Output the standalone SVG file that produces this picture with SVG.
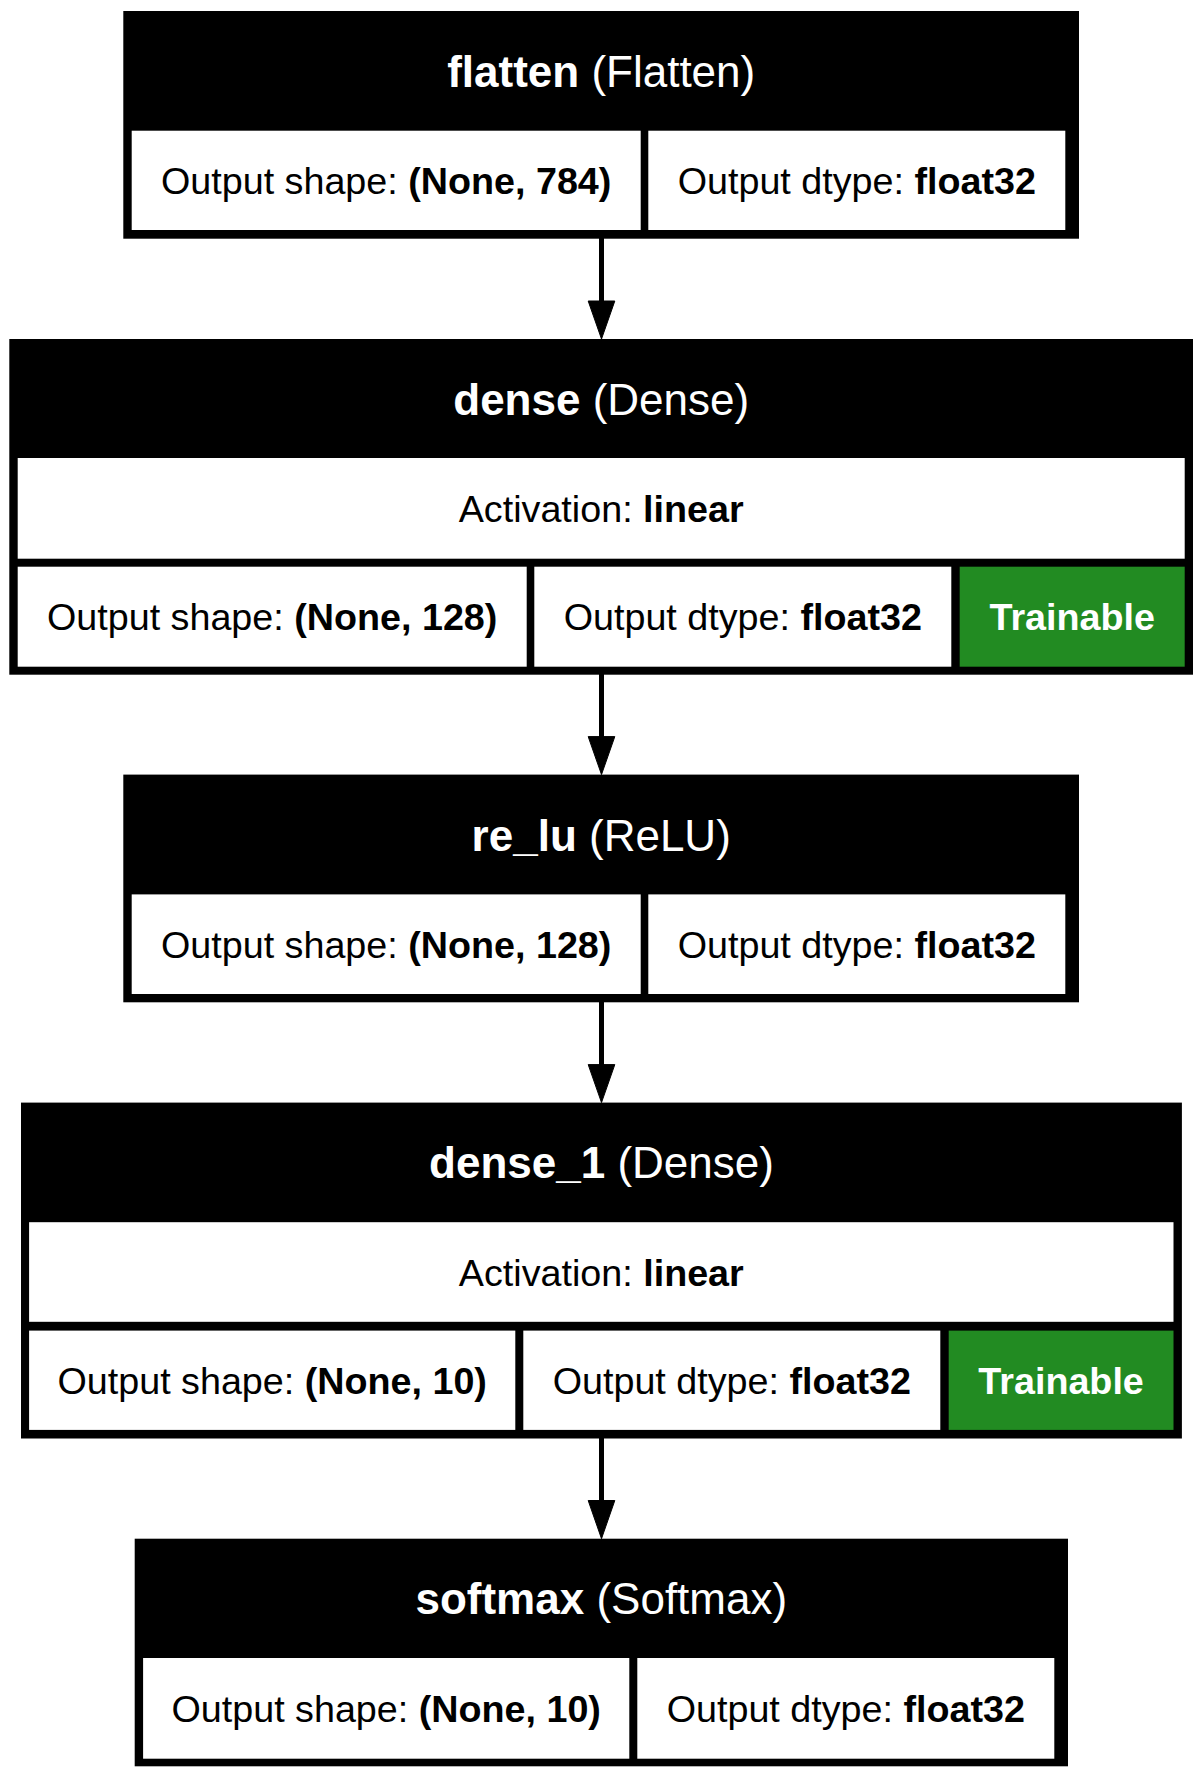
<svg xmlns="http://www.w3.org/2000/svg" width="1203" height="1778" viewBox="0 0 1203 1778">
<style>
text { font-family: "Liberation Sans", Arial, Helvetica, sans-serif; text-anchor: middle; }
.hd { font-size: 44px; fill: #ffffff; }
.bd { font-size: 37.7px; fill: #000000; }
.tr { font-size: 37.7px; fill: #ffffff; font-weight: bold; }
.b { font-weight: bold; }
.outer { fill: #000000; }
.cell { fill: #ffffff; }
.green { fill: #228b22; }
.edge { stroke: #000000; stroke-width: 5; fill: none; }
.head { fill: #000000; stroke: #000000; stroke-width: 1; }
</style>
<rect width="1203" height="1778" fill="#ffffff"/>
<g id="connectors">
  <line class="edge" x1="601.5" y1="238" x2="601.5" y2="302"/>
  <polygon class="head" points="588.2,301 614.8,301 601.5,339"/>
  <line class="edge" x1="601.5" y1="674" x2="601.5" y2="737"/>
  <polygon class="head" points="588.2,736.6 614.8,736.6 601.5,774.6"/>
  <line class="edge" x1="601.5" y1="1002" x2="601.5" y2="1065"/>
  <polygon class="head" points="588.2,1064.6 614.8,1064.6 601.5,1102.6"/>
  <line class="edge" x1="601.5" y1="1438" x2="601.5" y2="1501"/>
  <polygon class="head" points="588.2,1500.5 614.8,1500.5 601.5,1538.7"/>
</g>
<g id="flatten">
  <rect class="outer" x="123.3" y="11" width="955.7" height="227.7"/>
  <rect class="cell" x="131.7" y="130.7" width="509" height="99.3"/>
  <rect class="cell" x="648.3" y="130.7" width="417" height="99.3"/>
  <text class="hd" x="601.2" y="86.9"><tspan class="b">flatten</tspan> (Flatten)</text>
  <text class="bd" x="386.2" y="194">Output shape: <tspan class="b">(None, 784)</tspan></text>
  <text class="bd" x="856.8" y="194">Output dtype: <tspan class="b">float32</tspan></text>
</g>
<g id="dense">
  <rect class="outer" x="9.3" y="339" width="1183.7" height="335.7"/>
  <rect class="cell" x="17.7" y="458" width="1167" height="100.7"/>
  <rect class="cell" x="17.7" y="566.7" width="509" height="100"/>
  <rect class="cell" x="534.3" y="566.7" width="417" height="100"/>
  <rect class="green" x="959.7" y="566.7" width="225" height="100"/>
  <text class="hd" x="601.2" y="414.5"><tspan class="b">dense</tspan> (Dense)</text>
  <text class="bd" x="601.2" y="522">Activation: <tspan class="b">linear</tspan></text>
  <text class="bd" x="272.2" y="630.3">Output shape: <tspan class="b">(None, 128)</tspan></text>
  <text class="bd" x="742.8" y="630.3">Output dtype: <tspan class="b">float32</tspan></text>
  <text class="tr" x="1072.2" y="630.3">Trainable</text>
</g>
<g id="re_lu">
  <rect class="outer" x="123.3" y="774.6" width="955.7" height="227.7"/>
  <rect class="cell" x="131.7" y="894.4" width="509" height="99.6"/>
  <rect class="cell" x="648.3" y="894.4" width="417" height="99.6"/>
  <text class="hd" x="601.2" y="850.5"><tspan class="b">re_lu</tspan> (ReLU)</text>
  <text class="bd" x="386.2" y="957.8">Output shape: <tspan class="b">(None, 128)</tspan></text>
  <text class="bd" x="856.8" y="957.8">Output dtype: <tspan class="b">float32</tspan></text>
</g>
<g id="dense_1">
  <rect class="outer" x="21" y="1102.6" width="1160.9" height="335.9"/>
  <rect class="cell" x="29.1" y="1222.2" width="1144.4" height="99.6"/>
  <rect class="cell" x="29.1" y="1330.6" width="486.2" height="99.3"/>
  <rect class="cell" x="523.3" y="1330.6" width="417" height="99.3"/>
  <rect class="green" x="948.7" y="1330.6" width="224.8" height="99.3"/>
  <text class="hd" x="601.5" y="1178.4"><tspan class="b">dense_1</tspan> (Dense)</text>
  <text class="bd" x="601.3" y="1285.6">Activation: <tspan class="b">linear</tspan></text>
  <text class="bd" x="272.2" y="1393.8">Output shape: <tspan class="b">(None, 10)</tspan></text>
  <text class="bd" x="731.8" y="1393.8">Output dtype: <tspan class="b">float32</tspan></text>
  <text class="tr" x="1061.1" y="1393.8">Trainable</text>
</g>
<g id="softmax">
  <rect class="outer" x="134.7" y="1538.7" width="933.3" height="227.6"/>
  <rect class="cell" x="143.1" y="1658" width="486.2" height="100.7"/>
  <rect class="cell" x="637.3" y="1658" width="417" height="100.7"/>
  <text class="hd" x="601.3" y="1614.3"><tspan class="b">softmax</tspan> (Softmax)</text>
  <text class="bd" x="386.2" y="1721.5">Output shape: <tspan class="b">(None, 10)</tspan></text>
  <text class="bd" x="845.8" y="1721.5">Output dtype: <tspan class="b">float32</tspan></text>
</g>
</svg>
